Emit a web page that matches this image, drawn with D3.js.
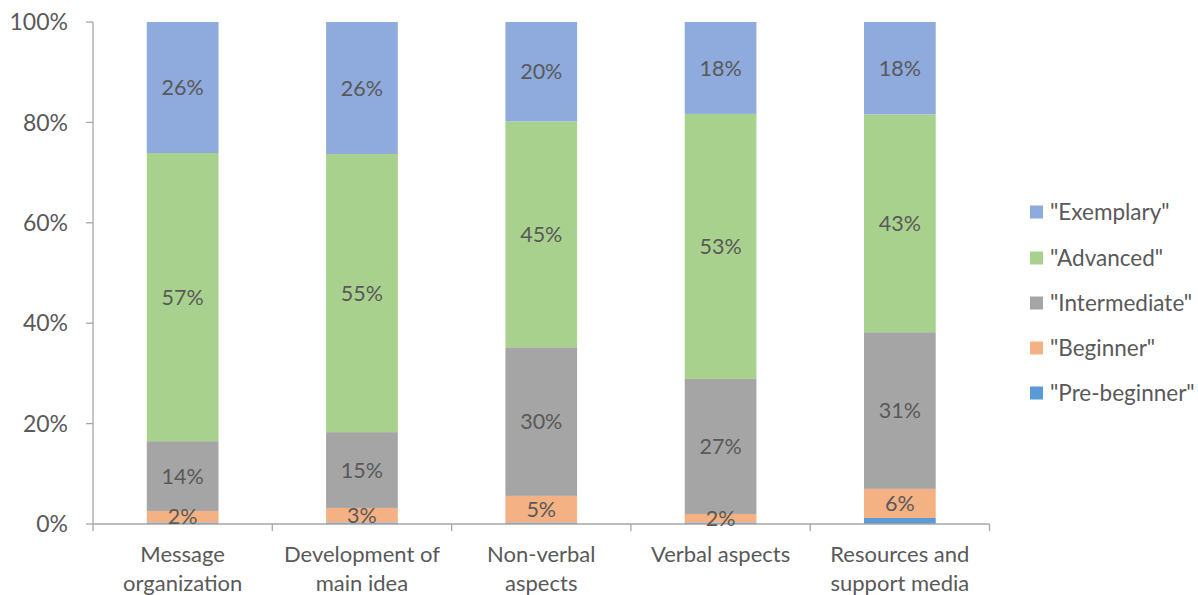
<!DOCTYPE html>
<html><head><meta charset="utf-8">
<script src="https://cdn.jsdelivr.net/npm/d3@7"></script>
<style>body{margin:0;background:#fff;} svg{display:block;} text{font-family:Lato,"Open Sans",sans-serif;}</style>
</head><body><svg id="c" width="1198" height="595"></svg>
<script>
const categories = [["Message","organization"],["Development of","main idea"],["Non-verbal","aspects"],["Verbal aspects"],["Resources and","support media"]];
const seriesNames = ['"Pre-beginner"','"Beginner"','"Intermediate"','"Advanced"','"Exemplary"'];
const preBeginner = [0.3, 0.3, 0.3, 0.3, 1.2];
const beginner = [2.3, 2.9, 5.3, 1.7, 5.8];
const intermediate = [13.9, 15.1, 29.6, 26.9, 31.2];
const advanced = [57.4, 55.4, 45.0, 52.8, 43.4];
const exemplary = [26.1, 26.3, 19.8, 18.3, 18.4];
const labelsShown = [false, true, true, true, true];
const colors = ["#5B9BD5","#F4B183","#A5A5A5","#A9D18E","#8FAADC"];
const yTicks = [0,20,40,60,80,100];

const seriesVals = [preBeginner, beginner, intermediate, advanced, exemplary];
const svg = d3.select("#c");
const x = d3.scaleBand().domain(d3.range(categories.length)).range([93, 989.5]);
const y = d3.scaleLinear().domain([0,100]).range([524, 22]);
const barW = x.bandwidth()*0.4;

const data = categories.map((c,i)=>{const o={i}; seriesVals.forEach((s,k)=>o[k]=s[i]); return o;});
const stack = d3.stack().keys(d3.range(seriesVals.length))(data);

const g = svg.append("g");
stack.forEach((layer,k)=>{
  g.selectAll(null).data(layer).enter().append("rect")
    .attr("x", d=>x(d.data.i)+x.bandwidth()/2-barW/2)
    .attr("width", barW)
    .attr("y", d=>y(d[1]))
    .attr("height", d=>y(d[0])-y(d[1]))
    .attr("fill", colors[k]);
});
// axes
const gray="#A6A6A6";
svg.append("line").attr("x1",93).attr("x2",93).attr("y1",y(100)).attr("y2",y(0)).attr("stroke",gray).attr("stroke-width",1.3);
svg.append("line").attr("x1",93).attr("x2",989.5).attr("y1",y(0)).attr("y2",y(0)).attr("stroke",gray).attr("stroke-width",1.3);
yTicks.forEach(t=>{
  svg.append("line").attr("x1",86).attr("x2",93).attr("y1",y(t)).attr("y2",y(t)).attr("stroke",gray).attr("stroke-width",1.3);
  svg.append("text").attr("x",68).attr("y",y(t)).attr("dy","0.36em").attr("text-anchor","end")
    .attr("font-size",23).attr("fill","#595959").text(t+"%");
});
d3.range(categories.length+1).forEach(i=>{
  const xx = 93 + i*x.bandwidth();
  svg.append("line").attr("x1",xx).attr("x2",xx).attr("y1",y(0)).attr("y2",y(0)+7).attr("stroke",gray).attr("stroke-width",1.3);
});
categories.forEach((lines,i)=>{
  lines.forEach((l,j)=>{
    svg.append("text").attr("x",x(i)+x.bandwidth()/2).attr("y",554+j*29).attr("dy","0.36em")
      .attr("text-anchor","middle").attr("font-size",22).attr("fill","#595959").text(l);
  });
});
// data labels
stack.forEach((layer,k)=>{
  if(!labelsShown[k]) return;
  layer.forEach(d=>{
    svg.append("text").attr("x",x(d.data.i)+x.bandwidth()/2).attr("y",(y(d[0])+y(d[1]))/2).attr("dy","0.36em")
      .attr("text-anchor","middle").attr("font-size",21.5).attr("fill","#595959").text(Math.round(d[1]-d[0])+"%");
  });
});
// legend
const legendY = [393,348,303,258,212];
seriesNames.forEach((n,k)=>{
  svg.append("rect").attr("x",1030).attr("y",legendY[k]-6.5).attr("width",13).attr("height",13).attr("fill",colors[k]);
  svg.append("text").attr("x",1050).attr("y",legendY[k]).attr("dy","0.36em").attr("font-size",22.5).attr("fill","#595959").text(n);
});
</script></body></html>
